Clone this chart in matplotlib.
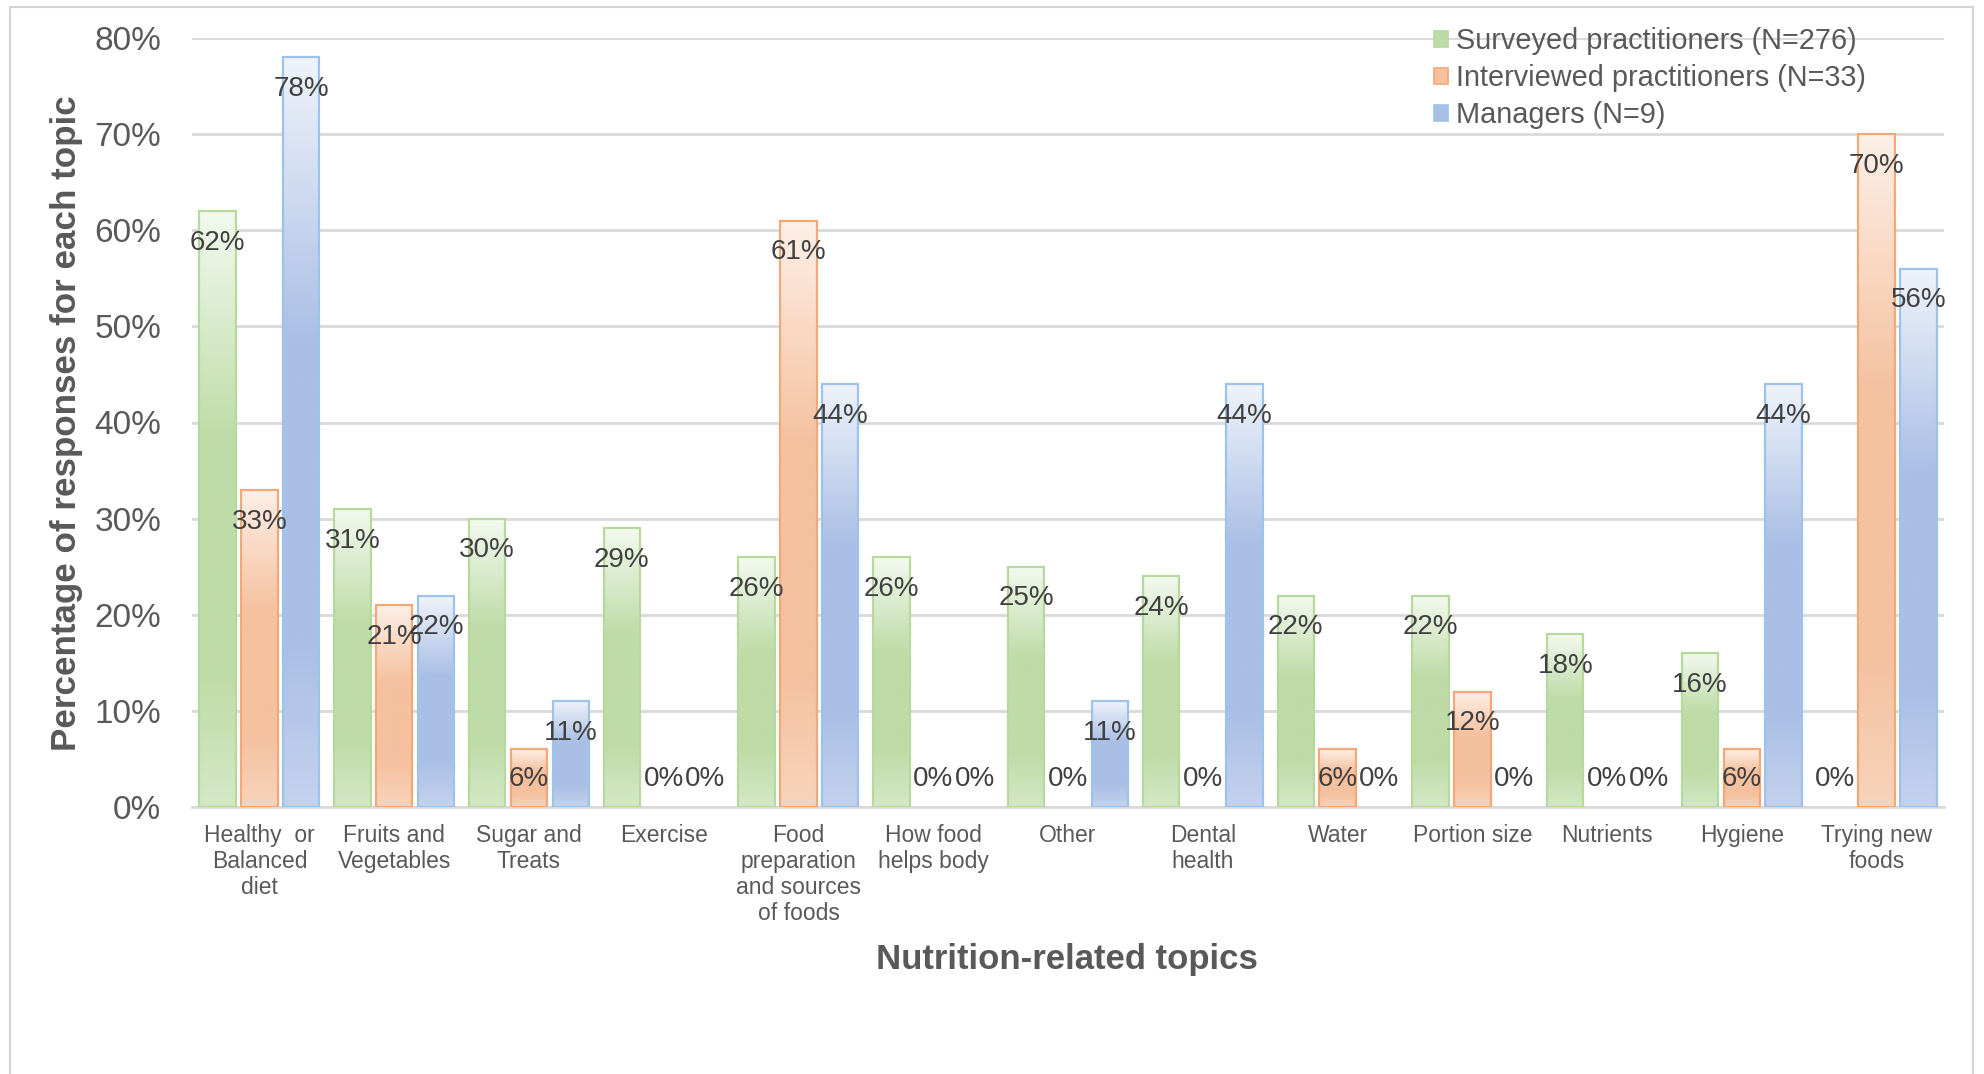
import numpy as np
import matplotlib
matplotlib.use("Agg")
import matplotlib.pyplot as plt
from matplotlib.colors import to_rgb
from matplotlib.patches import Patch
from matplotlib.lines import Line2D

plt.rcParams['font.family'] = ['Liberation Sans', 'DejaVu Sans']

categories = [
    "Healthy  or\nBalanced\ndiet", "Fruits and\nVegetables", "Sugar and\nTreats",
    "Exercise", "Food\npreparation\nand sources\nof foods", "How food\nhelps body",
    "Other", "Dental\nhealth", "Water", "Portion size", "Nutrients", "Hygiene",
    "Trying new\nfoods",
]
series_names = [
    "Surveyed practitioners (N=276)",
    "Interviewed practitioners (N=33)",
    "Managers (N=9)",
]
surveyed = [62, 31, 30, 29, 26, 26, 25, 24, 22, 22, 18, 16, 0]
interviewed = [33, 21, 6, 0, 61, 0, 0, 0, 6, 12, 0, 6, 70]
managers = [78, 22, 11, 0, 44, 0, 11, 44, 0, 0, 0, 44, 56]
y_ticks = [0, 10, 20, 30, 40, 50, 60, 70, 80]

# (top, full, bottom, edge) colours for each series' gradient fill
palettes = [
    ("#f3f9ef", "#bedca7", "#d4e8c7", "#b7d99e"),
    ("#fdf0e7", "#f5c19f", "#f8d4bb", "#f4a878"),
    ("#eff3fa", "#a9bfe5", "#c4d2ee", "#9dc3e8"),
]

W, H = 1984, 1074
fig = plt.figure(figsize=(W / 100, H / 100), dpi=100)
ax = fig.add_axes([192 / W, 1 - 807 / H, (1944 - 192) / W, (807 - 38) / H])

GRID = "#d9d9d9"
TICK_C = "#595959"
LABEL_C = "#404040"


def gradient_column(top, full, bottom, n=256):
    t = np.linspace(0, 1, n)
    stops = [0.0, 0.38, 0.78, 1.0]
    cols = np.array([to_rgb(top), to_rgb(full), to_rgb(full), to_rgb(bottom)])
    rgb = np.stack([np.interp(t, stops, cols[:, k]) for k in range(3)], axis=1)
    return rgb[:, None, :]


x = np.arange(len(categories))
bw = 0.27
offsets = [-0.31, 0.0, 0.31]
all_series = [surveyed, interviewed, managers]

for vals, off, pal in zip(all_series, offsets, palettes):
    top, full, bottom, edge = pal
    img = gradient_column(top, full, bottom)
    edges = [edge if v > 0 else "none" for v in vals]
    bars = ax.bar(x + off, vals, width=bw, facecolor="none", edgecolor=edges,
                  linewidth=1.6, zorder=3)
    for rect, v in zip(bars, vals):
        if v <= 0:
            continue
        x0 = rect.get_x()
        im = ax.imshow(img, extent=(x0, x0 + bw, 0, v), aspect="auto",
                       origin="upper", zorder=2, interpolation="bilinear")
        im.set_clip_path(rect)
    for xi, v in zip(x + off, vals):
        ax.text(xi, max(v - 3.3, 2.9), f"{v}%", ha="center", va="center",
                fontsize=20, color=LABEL_C, zorder=5)

ax.set_xlim(-0.5, len(categories) - 0.5)
ax.set_ylim(0, 80)
ax.set_yticks(y_ticks)
ax.set_yticklabels([f"{t}%" for t in y_ticks])
ax.set_xticks(x)
ax.set_xticklabels(categories, linespacing=1.18)
ax.yaxis.grid(True, color=GRID, linewidth=2)
ax.set_axisbelow(True)
for s in ["top", "right", "left"]:
    ax.spines[s].set_visible(False)
ax.spines["bottom"].set_color(GRID)
ax.spines["bottom"].set_linewidth(2)
ax.tick_params(axis="y", length=0, pad=22, labelsize=24, labelcolor=TICK_C)
ax.tick_params(axis="x", length=0, pad=12, labelsize=16.5, labelcolor=TICK_C)

fig.text(1067 / W, 1 - 960 / H, "Nutrition-related topics", ha="center",
         va="center", fontsize=25, fontweight="bold", color=TICK_C)
fig.text(67 / W, 1 - 423 / H, "Percentage of responses for each topic",
         ha="center", va="center", rotation=90, fontsize=25.2,
         fontweight="bold", color=TICK_C)

handles = [Patch(facecolor=p[1], edgecolor=p[3], linewidth=1.2) for p in palettes]
leg = fig.legend(handles, series_names, loc="upper left",
                 bbox_to_anchor=(1434 / W, 1 - 27 / H), frameon=False,
                 fontsize=20.8, handlelength=0.5, handleheight=0.5,
                 handletextpad=0.25, labelspacing=0.32, borderpad=0,
                 borderaxespad=0)
for t in leg.get_texts():
    t.set_color(TICK_C)

# thin frame around the chart area
border = dict(color="#d4d4d4", linewidth=1.5, transform=fig.transFigure)
fig.add_artist(Line2D([10 / W, 10 / W], [0, 1 - 7 / H], **border))
fig.add_artist(Line2D([10 / W, 1973 / W], [1 - 7 / H, 1 - 7 / H], **border))
fig.add_artist(Line2D([1973 / W, 1973 / W], [0, 1 - 7 / H], **border))

fig.savefig("out.png", dpi=100, facecolor="white")
